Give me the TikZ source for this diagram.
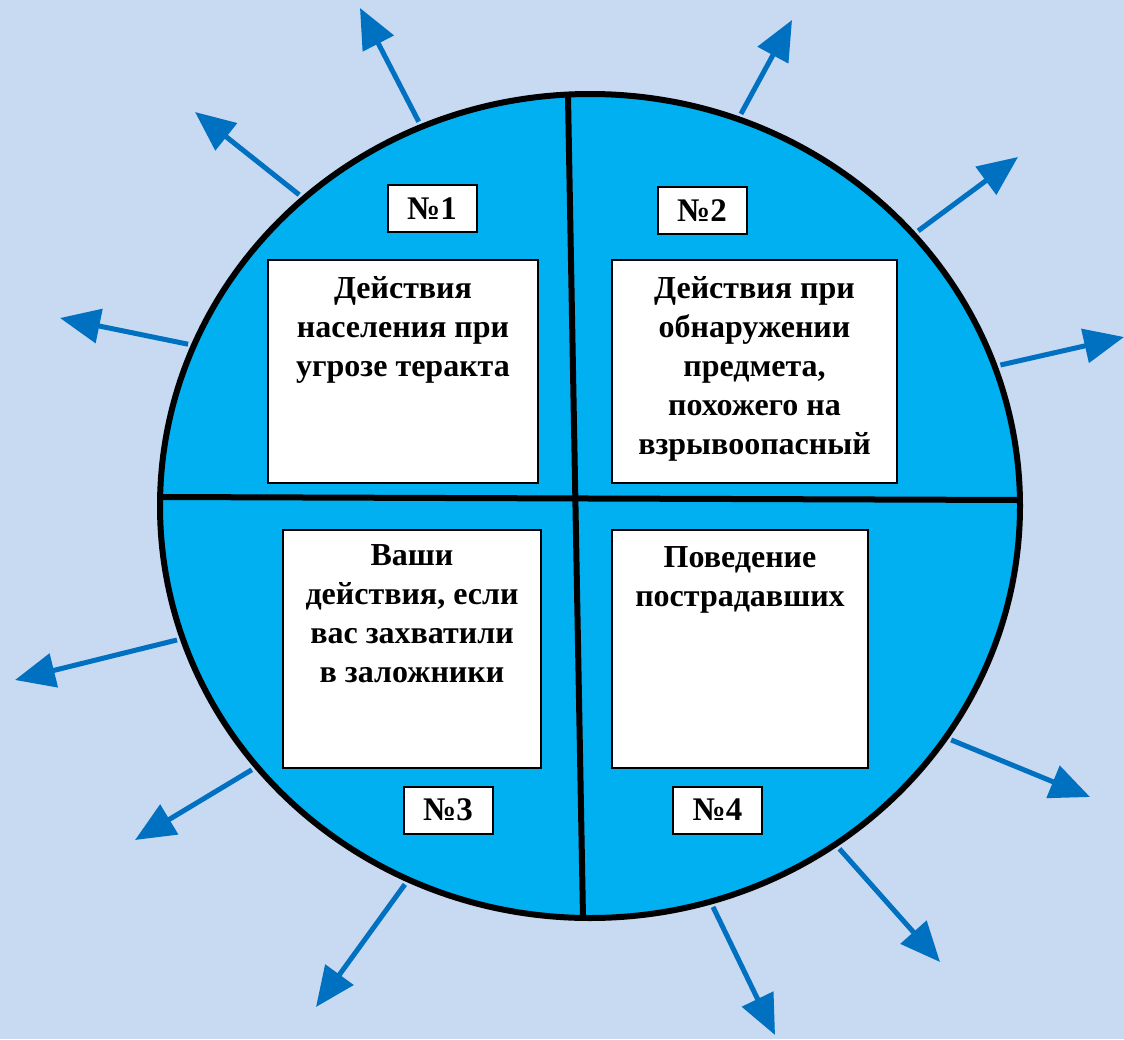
\documentclass[tikz,border=0pt]{standalone}
\usepackage{fontspec}
\setmainfont{Liberation Serif}
\usetikzlibrary{shapes.geometric,arrows.meta,positioning}
\definecolor{bgblue}{RGB}{200,217,242}
\definecolor{diskblue}{RGB}{0,176,240}
\definecolor{rayblue}{RGB}{0,112,192}
\begin{document}
\begin{tikzpicture}[
    x=1pt, y=-1pt,
    disk/.style={draw, ellipse, line width=6pt, fill=diskblue, inner sep=0pt,
                 minimum width=860pt, minimum height=824pt},
    card/.style={draw, fill=white, line width=2pt, rectangle, inner sep=0pt},
    cardtext/.style={align=center, inner sep=0pt, font=\fontsize{32}{39}\selectfont\bfseries},
    tag/.style={draw, fill=white, line width=2pt, rectangle, inner sep=0pt,
                minimum width=89pt, minimum height=47pt, font=\fontsize{33}{36}\selectfont\bfseries},
    ray/.style={draw=rayblue, line width=5pt, shorten <=3pt,
                -{Triangle[length=40pt, width=34pt]}},
    divider/.style={line width=6pt}
  ]

    % Background
    \fill[bgblue] (0,0) rectangle (1124,1039);
    \useasboundingbox (0,0) rectangle (1124,1039);

    % Disk
    \node[disk] at (590,506) (wheel) {};

    % Rays
    \foreach \ang/\tx/\ty [count=\i] in {114.4/360/8, 133.8/195/112, 158.5/60/318,
        69.2/792/20, 40.5/1018/157, 19.4/1124/337,
        -33.5/1090/797, -54.1/940/962, -73.9/775/1035,
        -116.9/316/1007, -142/135/840, -162.7/15/680} {
      \coordinate (tip\i) at (\tx,\ty);
      \draw[ray] (wheel.\ang) -- (tip\i);
    }

    % Dividers
    \coordinate (top)    at (568,97);
    \coordinate (bottom) at (583,918);
    \coordinate (left)   at (162,497);
    \coordinate (right)  at (1020,500);
    \draw[divider] (top) -- (bottom);
    \draw[divider] (left) -- (right);

    % Number tags
    \node[tag] at (432,208.5)  (tag1) {№1};
    \node[tag] at (702,210.5)  (tag2) {№2};
    \node[tag] at (448,810)    (tag3) {№3};
    \node[tag] at (717.5,810)  (tag4) {№4};

    % Cards
    \node[card, minimum width=270pt, minimum height=223pt] at (403,371.5) (card1) {};
    \node[card, minimum width=285pt, minimum height=223pt] at (754.5,371.5) (card2) {};
    \node[card, minimum width=258pt, minimum height=238pt] at (412,649) (card3) {};
    \node[card, minimum width=256pt, minimum height=238pt] at (740,649) (card4) {};

    \node[cardtext, anchor=north] at ([yshift=-17pt]card1.north) (text1)
      {Действия\\населения при\\угрозе теракта};
    \node[cardtext, anchor=north] at ([yshift=-17pt]card2.north) (text2)
      {Действия при\\обнаружении\\предмета,\\похожего на\\взрывоопасный};
    \node[cardtext, anchor=north] at ([yshift=-15pt]card3.north) (text3)
      {Ваши\\действия, если\\вас захватили\\в заложники};
    \node[cardtext, anchor=north] at ([yshift=-17pt]card4.north) (text4)
      {Поведение\\пострадавших};

  \end{tikzpicture}
\end{document}
